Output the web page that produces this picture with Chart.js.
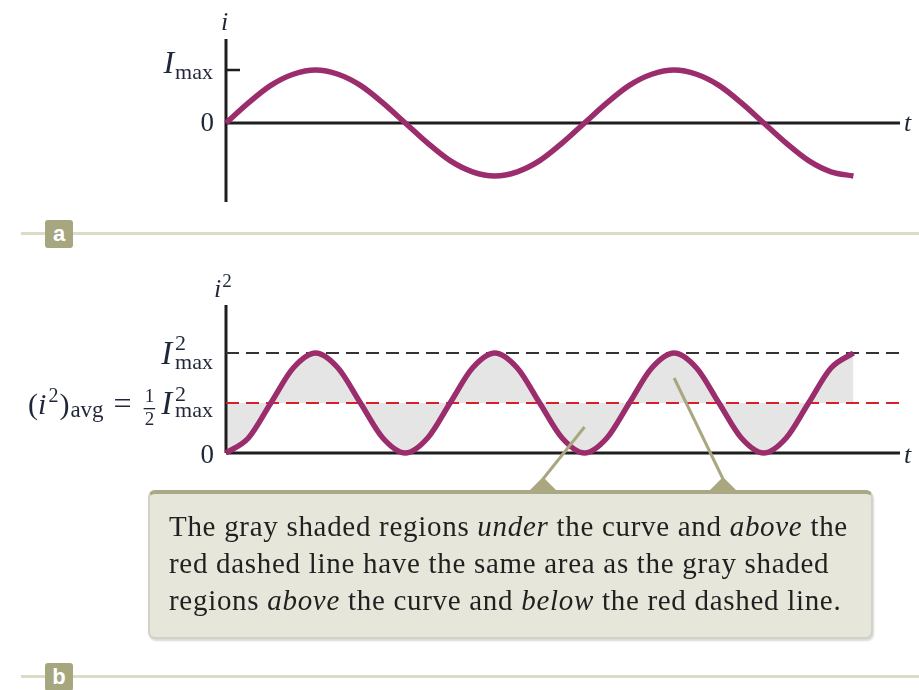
<!DOCTYPE html>
<html>
<head>
<meta charset="utf-8">
<script src="https://cdn.jsdelivr.net/npm/chart.js@4.4.1/dist/chart.umd.min.js"></script>
<style>
  body { margin: 0; width: 919px; height: 690px; background: #fff; position: relative; overflow: hidden; }
  canvas { position: absolute; left: 0; top: 0; }
  .sep { position: absolute; left: 21px; right: 0; height: 3px; background: #dcdcc6; }
  .tag { position: absolute; left: 45px; width: 28px; height: 28px; background: #a6a67f; border-radius: 3px;
         color: #fff; font: bold 22px "Liberation Sans", sans-serif; text-align: center; line-height: 27px; }
  .note { position: absolute; left: 148px; top: 490px; width: 725px; height: 149px; box-sizing: border-box;
          background: #e7e6da; border: 2px solid #d2d2c6; border-top: 4px solid #aaa985; border-radius: 7px;
          box-shadow: 1px 2px 2px rgba(0,0,0,.15); font: 29px "Liberation Serif", serif; line-height: 37px;
          letter-spacing: 0.7px; color: #231f20; padding: 14px 0 0 19px; white-space: nowrap; }
</style>
</head>
<body>
<canvas id="chartA" width="919" height="690"></canvas>
<canvas id="chartB" width="919" height="690"></canvas>

<div class="sep" style="top:232px"></div>
<div class="tag" style="top:220px">a</div>
<div class="sep" style="top:675px"></div>
<div class="tag" style="top:663px">b</div>

<div class="note">The gray shaded regions <i>under</i> the curve and <i>above</i> the<br>red dashed line have the same area as the gray shaded<br>regions <i>above</i> the curve and <i>below</i> the red dashed line.</div>

<script>
// time in periods of the current
const phase = [0, 0.0625, 0.125, 0.1875, 0.25, 0.3125, 0.375, 0.4375, 0.5, 0.5625, 0.625, 0.6875, 0.75, 0.8125, 0.875,
               0.9375, 1, 1.0625, 1.125, 1.1875, 1.25, 1.3125, 1.375, 1.4375, 1.5, 1.5625, 1.625, 1.6875, 1.75];
// i / Imax
const current = [0, 0.38, 0.71, 0.92, 1, 0.92, 0.71, 0.38, 0, -0.38, -0.71, -0.92, -1, -0.92, -0.71,
                 -0.38, 0, 0.38, 0.71, 0.92, 1, 0.92, 0.71, 0.38, 0, -0.38, -0.71, -0.92, -1];
// i^2 / Imax^2
const currentSq = [0, 0.15, 0.5, 0.85, 1, 0.85, 0.5, 0.15, 0, 0.15, 0.5, 0.85, 1, 0.85, 0.5,
                   0.15, 0, 0.15, 0.5, 0.85, 1, 0.85, 0.5, 0.15, 0, 0.15, 0.5, 0.85, 1];
const peakSq = 1;
const meanSq = 0.5;
const axisEnd = 1.88;
// where the two callout pointers touch the lower graph (phase, i^2)
const pointerTips = [{ x: 1.0, y: 0.26 }, { x: 1.25, y: 0.75 }];
const pointerBases = [543, 723];

const curveColor = '#9b2d6c';
const ink = '#1f2639';
const serif = '"Liberation Serif", serif';

function pts(ys) {
    return phase.map((t, k) => ({ x: t, y: ys[k] }));
}

function pieceWidth(ctx, p) {
    ctx.font = p.font;
    let w = p.up !== undefined
        ? Math.max(ctx.measureText(p.up).width, ctx.measureText(p.down).width)
        : ctx.measureText(p.text).width;
    return w + (p.gap || 0);
}

// draws text pieces left to right (with sub/superscripts), optionally right aligned
function drawRun(ctx, x, y, pieces, align) {
    if (align === 'right') {
        x -= pieces.reduce((s, p) => s + pieceWidth(ctx, p), 0);
    }
    ctx.textAlign = 'left';
    ctx.textBaseline = 'alphabetic';
    ctx.fillStyle = ink;
    pieces.forEach(p => {
        const w = pieceWidth(ctx, p);
        ctx.font = p.font;
        if (p.up !== undefined) {
            const wu = ctx.measureText(p.up).width;
            const wd = ctx.measureText(p.down).width;
            const inner = Math.max(wu, wd);
            if (p.center) {
                ctx.fillText(p.up, x + (inner - wu) / 2, y + p.upDy);
                ctx.fillText(p.down, x + (inner - wd) / 2, y + p.downDy);
                ctx.fillRect(x - 1, y + p.barDy, inner + 2, 1.3);
            } else {
                ctx.fillText(p.up, x, y + p.upDy);
                ctx.fillText(p.down, x, y + p.downDy);
            }
        } else {
            ctx.fillText(p.text, x, y + (p.dy || 0));
        }
        x += w;
    });
}

function drawAxes(chart) {
    const { ctx, scales: { x, y } } = chart;
    const x0 = x.getPixelForValue(0), y0 = y.getPixelForValue(0);
    ctx.save();
    ctx.strokeStyle = '#1e1e1e';
    ctx.lineWidth = 3;
    ctx.beginPath();
    ctx.moveTo(x0, chart.chartArea.top);
    ctx.lineTo(x0, chart.chartArea.bottom);
    ctx.moveTo(x0, y0);
    ctx.lineTo(x.getPixelForValue(axisEnd), y0);
    ctx.stroke();
    ctx.restore();
}

const baseOptions = (pad, yMin, yMax) => ({
    responsive: false,
    animation: false,
    events: [],
    layout: { padding: pad },
    scales: {
        x: { type: 'linear', display: false, min: 0, max: axisEnd },
        y: { display: false, min: yMin, max: yMax },
    },
    plugins: {
        legend: { display: false },
        tooltip: { enabled: false },
        filler: { drawTime: 'beforeDatasetsDraw' },
    },
});

// (a) current vs time
new Chart(document.getElementById('chartA'), {
    type: 'line',
    data: {
        datasets: [{
            data: pts(current),
            borderColor: curveColor,
            borderWidth: 5.5,
            pointRadius: 0,
            cubicInterpolationMode: 'monotone',
            clip: false,
        }],
    },
    options: baseOptions({ left: 226, right: 19, top: 39, bottom: 488 }, -1.49, 1.585),
    plugins: [{
        id: 'axesA',
        beforeDatasetsDraw(chart) {
            drawAxes(chart);
            const { ctx, scales: { x, y } } = chart;
            const x0 = x.getPixelForValue(0);
            ctx.save();
            ctx.strokeStyle = '#1e1e1e';
            ctx.lineWidth = 2.5;
            ctx.beginPath();
            ctx.moveTo(x0, y.getPixelForValue(1));
            ctx.lineTo(x0 + 14, y.getPixelForValue(1));
            ctx.stroke();
            ctx.restore();
        },
        afterDraw(chart) {
            const { ctx, scales: { y } } = chart;
            const y1 = y.getPixelForValue(1), y0 = y.getPixelForValue(0);
            ctx.save();
            drawRun(ctx, 221, 30, [{ text: 'i', font: 'italic 26px ' + serif }]);
            drawRun(ctx, 213, y1 + 3, [
                { text: 'I', font: 'italic 32px ' + serif, gap: 1 },
                { text: 'max', font: '22px ' + serif, dy: 6 },
            ], 'right');
            drawRun(ctx, 214, y0 + 8, [{ text: '0', font: '27px ' + serif }], 'right');
            drawRun(ctx, 904, y0 + 8, [{ text: 't', font: 'italic 26px ' + serif }]);
            ctx.restore();
        },
    }],
});

// (b) current squared vs time
new Chart(document.getElementById('chartB'), {
    type: 'line',
    data: {
        datasets: [
            {
                data: pts(currentSq),
                borderColor: curveColor,
                borderWidth: 5.5,
                pointRadius: 0,
                cubicInterpolationMode: 'monotone',
                clip: false,
                fill: { value: meanSq },
                backgroundColor: '#e5e5e5',
            },
            {
                data: [{ x: 0, y: peakSq }, { x: axisEnd, y: peakSq }],
                borderColor: '#333',
                borderWidth: 1.8,
                borderDash: [13, 7],
                pointRadius: 0,
            },
            {
                data: [{ x: 0, y: meanSq }, { x: axisEnd, y: meanSq }],
                borderColor: '#d9202a',
                borderWidth: 1.8,
                borderDash: [13, 7],
                pointRadius: 0,
            },
        ],
    },
    options: baseOptions({ left: 226, right: 19, top: 305, bottom: 237 }, 0, 1.48),
    plugins: [{
        id: 'axesB',
        beforeDatasetsDraw(chart) {
            drawAxes(chart);
        },
        afterDatasetsDraw(chart) {
            const { ctx, scales: { x, y } } = chart;
            ctx.save();
            ctx.strokeStyle = '#aaa780';
            ctx.fillStyle = '#aaa780';
            ctx.lineWidth = 3;
            pointerTips.forEach((tip, k) => {
                const bx = pointerBases[k];
                ctx.beginPath();
                ctx.moveTo(bx, 479);
                ctx.lineTo(x.getPixelForValue(tip.x), y.getPixelForValue(tip.y));
                ctx.stroke();
                ctx.beginPath();
                ctx.moveTo(bx - 14, 491);
                ctx.lineTo(bx, 477);
                ctx.lineTo(bx + 14, 491);
                ctx.closePath();
                ctx.fill();
            });
            ctx.restore();
        },
        afterDraw(chart) {
            const { ctx, scales: { y } } = chart;
            const yPeak = y.getPixelForValue(peakSq), yMean = y.getPixelForValue(meanSq), y0 = y.getPixelForValue(0);
            ctx.save();
            drawRun(ctx, 214, 297, [
                { text: 'i', font: 'italic 26px ' + serif, gap: 1 },
                { text: '2', font: '19px ' + serif, dy: -10 },
            ]);
            drawRun(ctx, 213, yPeak + 11, [
                { text: 'I', font: 'italic 33px ' + serif, gap: 3 },
                { up: '2', down: 'max', font: '22px ' + serif, upDy: -14, downDy: 5 },
            ], 'right');
            drawRun(ctx, 213, yMean + 11, [
                { text: '(', font: '30px ' + serif },
                { text: 'i', font: 'italic 30px ' + serif, gap: 2 },
                { text: '2', font: '20px ' + serif, dy: -12, gap: 1 },
                { text: ')', font: '30px ' + serif, gap: 1 },
                { text: 'avg', font: '23px ' + serif, dy: 3, gap: 10 },
                { text: '=', font: '32px ' + serif, gap: 13 },
                { up: '1', down: '2', font: '19px ' + serif, upDy: -12, downDy: 11, barDy: -6, center: true, gap: 7 },
                { text: 'I', font: 'italic 33px ' + serif, gap: 3 },
                { up: '2', down: 'max', font: '22px ' + serif, upDy: -13, downDy: 3 },
            ], 'right');
            drawRun(ctx, 214, y0 + 10, [{ text: '0', font: '27px ' + serif }], 'right');
            drawRun(ctx, 904, y0 + 10, [{ text: 't', font: 'italic 26px ' + serif }]);
            ctx.restore();
        },
    }],
});
</script>
</body>
</html>
